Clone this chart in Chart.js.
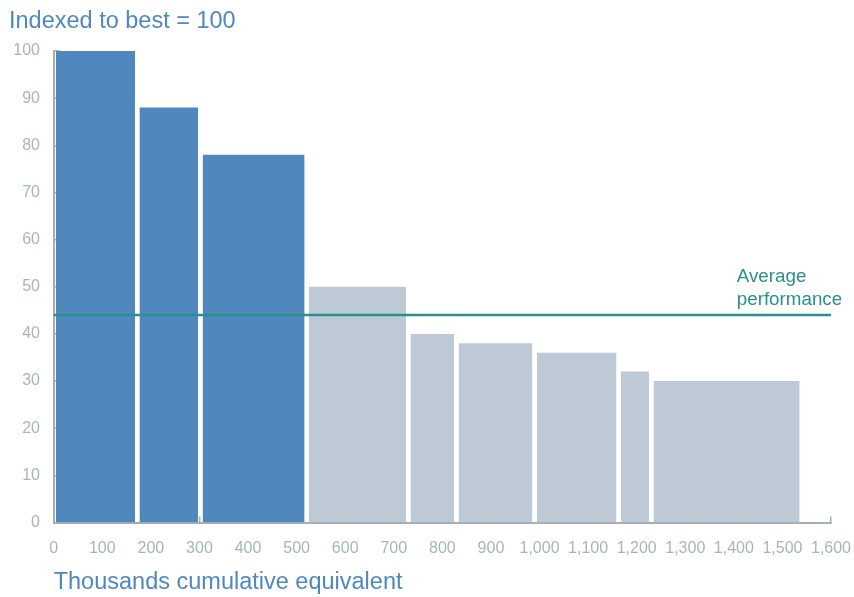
<!DOCTYPE html>
<html>
<head>
<meta charset="utf-8">
<script src="https://cdn.jsdelivr.net/npm/chart.js@4.4.1/dist/chart.umd.min.js"></script>
<style>
  html, body { margin: 0; padding: 0; background: #ffffff; }
  #wrap { width: 854px; height: 597px; }
</style>
</head>
<body>
<div id="wrap"><canvas id="chart" width="854" height="597"></canvas></div>
<script>
// Cumulative volume (thousands) at each column boundary
const cumulativeEdges = [0, 172, 302, 521, 730, 829, 990, 1163, 1230, 1540];
// Performance index for each column (best = 100)
const indexValues = [100, 88, 78, 50, 40, 38, 36, 32, 30];
// Which columns belong to the leading group
const leaderGroup = [true, true, true, false, false, false, false, false, false];
// Average performance across all columns
const averagePerformance = 44;
// Axis ranges
const xAxisMax = 1600;
const xAxisStep = 100;
const yAxisMax = 100;
const yAxisStep = 10;

const FONT = "'Liberation Sans', Arial, Helvetica, sans-serif";
const BLUE_DARK = '#5088bd';
const BLUE_LIGHT = '#bec9d6';
const TEAL = '#2b8f8d';
const AXIS_GREY = '#a3afb3';
const LABEL_GREY = '#a7b5b9';
const TITLE_BLUE = '#4f88c0';
const COLUMN_GAP = 4.5; // half the white gap between columns, in x units

// Each column is a filled outline (x0,0)-(x0,v)-(x1,v)-(x1,0)
const columnDatasets = indexValues.map((v, i) => {
  const x0 = cumulativeEdges[i] + COLUMN_GAP;
  const x1 = cumulativeEdges[i + 1] - COLUMN_GAP;
  const colour = leaderGroup[i] ? BLUE_DARK : BLUE_LIGHT;
  return {
    data: [{x: x0, y: 0}, {x: x0, y: v}, {x: x1, y: v}, {x: x1, y: 0}],
    showLine: true,
    fill: 'origin',
    backgroundColor: colour,
    borderColor: 'rgba(0,0,0,0)',
    borderWidth: 0,
    pointRadius: 0,
    pointHoverRadius: 0,
    tension: 0
  };
});

const averageDataset = {
  data: [{x: 0, y: averagePerformance}, {x: xAxisMax, y: averagePerformance}],
  showLine: true,
  fill: false,
  borderColor: TEAL,
  borderWidth: 2.5,
  pointRadius: 0,
  pointHoverRadius: 0
};

// Label for the average line, positioned from the scales
const averageLabel = {
  id: 'averageLabel',
  afterDatasetsDraw(chart) {
    const {ctx, scales: {x, y}} = chart;
    const px = x.getPixelForValue(1406);
    const py = y.getPixelForValue(averagePerformance);
    ctx.save();
    ctx.font = '18.8px ' + FONT;
    ctx.fillStyle = TEAL;
    ctx.textAlign = 'left';
    ctx.textBaseline = 'alphabetic';
    ctx.fillText('Average', px, py - 33);
    ctx.fillText('performance', px, py - 10.4);
    ctx.restore();
  }
};

new Chart(document.getElementById('chart'), {
  type: 'scatter',
  data: { datasets: [averageDataset, ...columnDatasets] },
  options: {
    responsive: false,
    animation: false,
    events: [],
    layout: { padding: { left: 9, right: 23, top: 0, bottom: 0 } },
    plugins: {
      legend: { display: false },
      tooltip: { enabled: false },
      title: {
        display: true,
        text: 'Indexed to best = 100',
        align: 'start',
        color: TITLE_BLUE,
        font: { family: FONT, size: 23.5, weight: 'normal' },
        padding: { top: 7, bottom: 15.8 }
      }
    },
    scales: {
      x: {
        type: 'linear',
        min: 0,
        max: xAxisMax,
        border: { display: true, color: AXIS_GREY, width: 2 },
        grid: { drawOnChartArea: false, drawTicks: true, tickLength: -6, color: AXIS_GREY, lineWidth: 1.5 },
        ticks: {
          stepSize: xAxisStep,
          color: LABEL_GREY,
          padding: 22.2,
          maxRotation: 0,
          autoSkip: false,
          font: { family: FONT, size: 16 }
        },
        title: {
          display: true,
          text: 'Thousands cumulative equivalent',
          align: 'start',
          color: TITLE_BLUE,
          font: { family: FONT, size: 23.5, weight: 'normal' },
          padding: { top: 11.6, bottom: 0.2 }
        },
        afterFit(scale) {
          scale.height = 74.5;
          scale.paddingLeft = 0;
          scale.paddingRight = 0;
        }
      },
      y: {
        type: 'linear',
        min: 0,
        max: yAxisMax,
        border: { display: true, color: AXIS_GREY, width: 2 },
        grid: { drawOnChartArea: false, drawTicks: true, tickLength: -6, color: AXIS_GREY, lineWidth: 1.5 },
        ticks: {
          stepSize: yAxisStep,
          color: LABEL_GREY,
          padding: 19.7,
          font: { family: FONT, size: 16 }
        },
        afterFit(scale) { scale.width = 44.7; }
      }
    }
  },
  plugins: [averageLabel]
});
</script>
</body>
</html>
